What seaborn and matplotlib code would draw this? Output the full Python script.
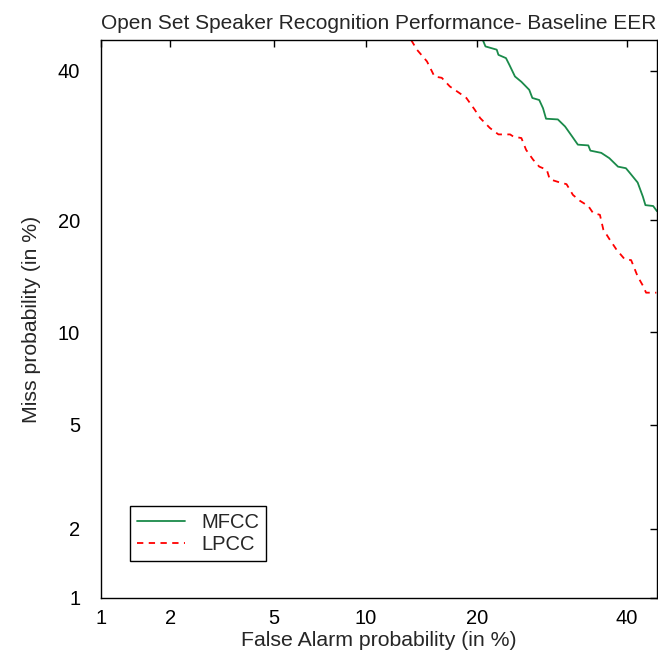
import math
import numpy as np
import pandas as pd
import seaborn as sns
import matplotlib
matplotlib.use("Agg")
import matplotlib.pyplot as plt

# DET curve points (false alarm %, miss %)
mfcc_fa = [20.6, 20.9, 22.2, 22.4, 23.3, 23.7, 24.4, 25.2, 26.2, 26.6, 27.5, 28.0, 28.4,
           30.0, 31.0, 32.0, 32.8, 34.3, 34.6, 36.2, 37.4, 38.7, 39.9, 40.5, 41.7, 42.5,
           42.9, 44.1, 44.7]
mfcc_miss = [44.7, 43.7, 43.2, 42.4, 41.9, 40.9, 39.1, 38.3, 37.1, 35.9, 35.6, 34.4, 32.9,
             32.8, 31.8, 30.4, 29.3, 29.2, 28.5, 28.2, 27.5, 26.4, 26.2, 25.6, 24.4, 22.7,
             21.7, 21.6, 21.0]

lpcc_fa = [13.5, 14.0, 14.9, 15.6, 16.3, 17.1, 18.1, 18.8, 19.7, 20.3, 21.4, 22.4, 23.8,
           24.2, 25.2, 25.8, 26.7, 27.5, 28.5, 28.9, 30.3, 31.2, 32.1, 33.1, 34.3, 35.0,
           36.0, 36.5, 37.4, 38.5, 39.7, 40.7, 41.7, 42.5, 43.0, 44.6]
lpcc_miss = [44.7, 43.2, 41.4, 39.1, 38.9, 37.6, 36.6, 35.9, 34.2, 33.0, 31.6, 30.7, 30.7,
             30.4, 30.2, 28.6, 27.3, 26.4, 26.0, 24.8, 24.4, 24.2, 22.9, 22.2, 21.6, 20.8,
             20.6, 19.0, 18.0, 16.9, 16.0, 15.9, 14.4, 13.6, 13.0, 13.0]

ticks = [1, 2, 5, 10, 20, 40]
lims = (1, 44.7)

_erf = np.vectorize(math.erf, otypes=[float])


def norm_cdf(z):
    return 0.5 * (1 + _erf(np.asarray(z, float) / math.sqrt(2)))


def norm_ppf(p):
    p = np.clip(np.asarray(p, float), 1e-9, 1 - 1e-9)
    lo = np.full(p.shape, -9.0)
    hi = np.full(p.shape, 9.0)
    for _ in range(60):
        mid = (lo + hi) / 2
        below = norm_cdf(mid) < p
        lo = np.where(below, mid, lo)
        hi = np.where(below, hi, mid)
    return (lo + hi) / 2


def fwd(v):
    return norm_ppf(np.asarray(v, float) / 100.0)


def inv(z):
    return 100.0 * norm_cdf(z)


df = pd.concat([
    pd.DataFrame({"fa": mfcc_fa, "miss": mfcc_miss, "system": "MFCC"}),
    pd.DataFrame({"fa": lpcc_fa, "miss": lpcc_miss, "system": "LPCC"}),
], ignore_index=True)

sns.set_style("white")
plt.rcParams["font.family"] = ["Liberation Sans", "DejaVu Sans"]

fig = plt.figure(figsize=(6.58, 6.62), dpi=100)
ax = fig.add_axes([0.1535, 0.0967, 0.8450, 0.8429])

sns.lineplot(data=df[df.system == "MFCC"], x="fa", y="miss", ax=ax, sort=False,
             estimator=None, color="#1a8a4a", lw=1.3, label="MFCC")
sns.lineplot(data=df[df.system == "LPCC"], x="fa", y="miss", ax=ax, sort=False,
             estimator=None, color="#ff0000", lw=1.3, linestyle=(0, (3.5, 3)), label="LPCC")

ax.set_xscale("function", functions=(fwd, inv))
ax.set_yscale("function", functions=(fwd, inv))
ax.set_xlim(*lims)
ax.set_ylim(*lims)
ax.set_xticks(ticks)
ax.set_yticks(ticks)
ax.set_xticklabels([str(t) for t in ticks])
ax.set_yticklabels([str(t) for t in ticks])
ax.minorticks_off()
ax.tick_params(direction="in", length=5, width=1, colors="black", labelsize=14.5,
               top=True, right=True)
ax.tick_params(axis="x", pad=8)
ax.tick_params(axis="y", pad=15)
for s in ax.spines.values():
    s.set_color("black")
    s.set_linewidth(1)

ax.set_xlabel("False Alarm probability (in %)", fontsize=15.3, labelpad=2)
ax.set_ylabel("Miss probability (in %)", fontsize=15.3, labelpad=12)
ax.set_title("Open Set Speaker Recognition Performance- Baseline EER", fontsize=15, pad=8)

leg = ax.legend(loc="lower left", bbox_to_anchor=(0.052, 0.066), borderaxespad=0,
                fancybox=False, edgecolor="black", framealpha=1, fontsize=14.5,
                handlelength=2.4, borderpad=0.35, labelspacing=0.15)
leg.get_frame().set_linewidth(1)

fig.savefig("out.png", dpi=100)
